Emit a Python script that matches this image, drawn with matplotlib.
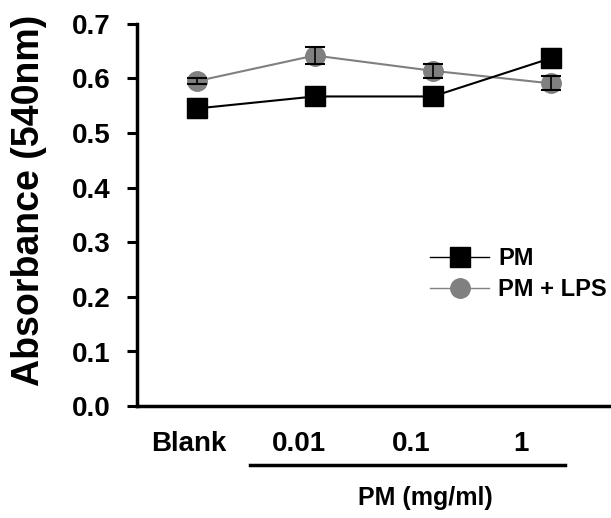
import matplotlib.pyplot as plt
from matplotlib.lines import Line2D

doses = ["Blank", "0.01", "0.1", "1"]
pm = [0.545, 0.567, 0.567, 0.637]
pm_err = [0.017, 0.009, 0.009, 0.017]
pm_lps = [0.595, 0.642, 0.614, 0.591]
pm_lps_err = [0.005, 0.016, 0.013, 0.013]

plt.rcParams["font.family"] = ["Liberation Sans", "DejaVu Sans"]
plt.rcParams["font.weight"] = "bold"

fig = plt.figure(figsize=(6.11, 5.18), dpi=100)
ax = fig.add_axes([0.224, 0.216, 0.776, 0.738])

xs = list(range(len(doses)))
ax.plot(xs, pm_lps, color="#808080", marker="o", markersize=14,
        linewidth=1.5, zorder=3)
ax.plot(xs, pm, color="black", marker="s", markersize=14,
        linewidth=1.5, zorder=4)
ax.errorbar(xs, pm_lps, yerr=pm_lps_err, fmt="none", ecolor="black",
            capsize=7.5, elinewidth=1.2, capthick=1.5, zorder=5)
ax.errorbar(xs, pm, yerr=pm_err, fmt="none", ecolor="black",
            capsize=7.5, elinewidth=1.2, capthick=1.5, zorder=5)

ax.set_xlim(-0.506, 3.51)
ax.set_ylim(0, 0.7)
ax.set_yticks([i / 10 for i in range(8)])
ax.set_yticklabels([f"{i / 10:.1f}" for i in range(8)], fontsize=20, fontweight="bold")
# category labels sit slightly left of the points in the original
label_shift = [-0.07, -0.13, -0.18, -0.25]
ax.set_xticks([x + d for x, d in zip(xs, label_shift)])
ax.set_xticklabels(doses, fontsize=20, fontweight="bold")
ax.tick_params(axis="x", length=0, pad=18)
ax.tick_params(axis="y", length=7, width=2.2, direction="out", pad=12)
for s in ["top", "right"]:
    ax.spines[s].set_visible(False)
for s in ["left", "bottom"]:
    ax.spines[s].set_linewidth(2.5)
ax.set_ylabel("Absorbance (540nm)", fontsize=27, fontweight="bold")
ax.yaxis.set_label_coords(-0.19, 0.537)

# bracket under the PM doses
ax.plot([0.452, 3.12], [-0.108, -0.108], color="black", linewidth=2.5,
        clip_on=False)
ax.text(1.935, -0.168, "PM (mg/ml)", ha="center", va="center",
        fontsize=18, fontweight="bold")

handles = [
    Line2D([0], [0], color="black", marker="s", markersize=14, linewidth=1),
    Line2D([0], [0], color="#808080", marker="o", markersize=14, linewidth=1),
]
ax.legend(handles, ["PM", "PM + LPS"], frameon=False, loc="center left",
          bbox_to_anchor=(430 / 611, 1 - 274 / 518), bbox_transform=fig.transFigure,
          borderpad=0, borderaxespad=0, handlelength=2.5, handletextpad=0.4,
          prop={"weight": "bold", "size": 17}, labelspacing=0.35)

fig.savefig("out.png", dpi=100)
